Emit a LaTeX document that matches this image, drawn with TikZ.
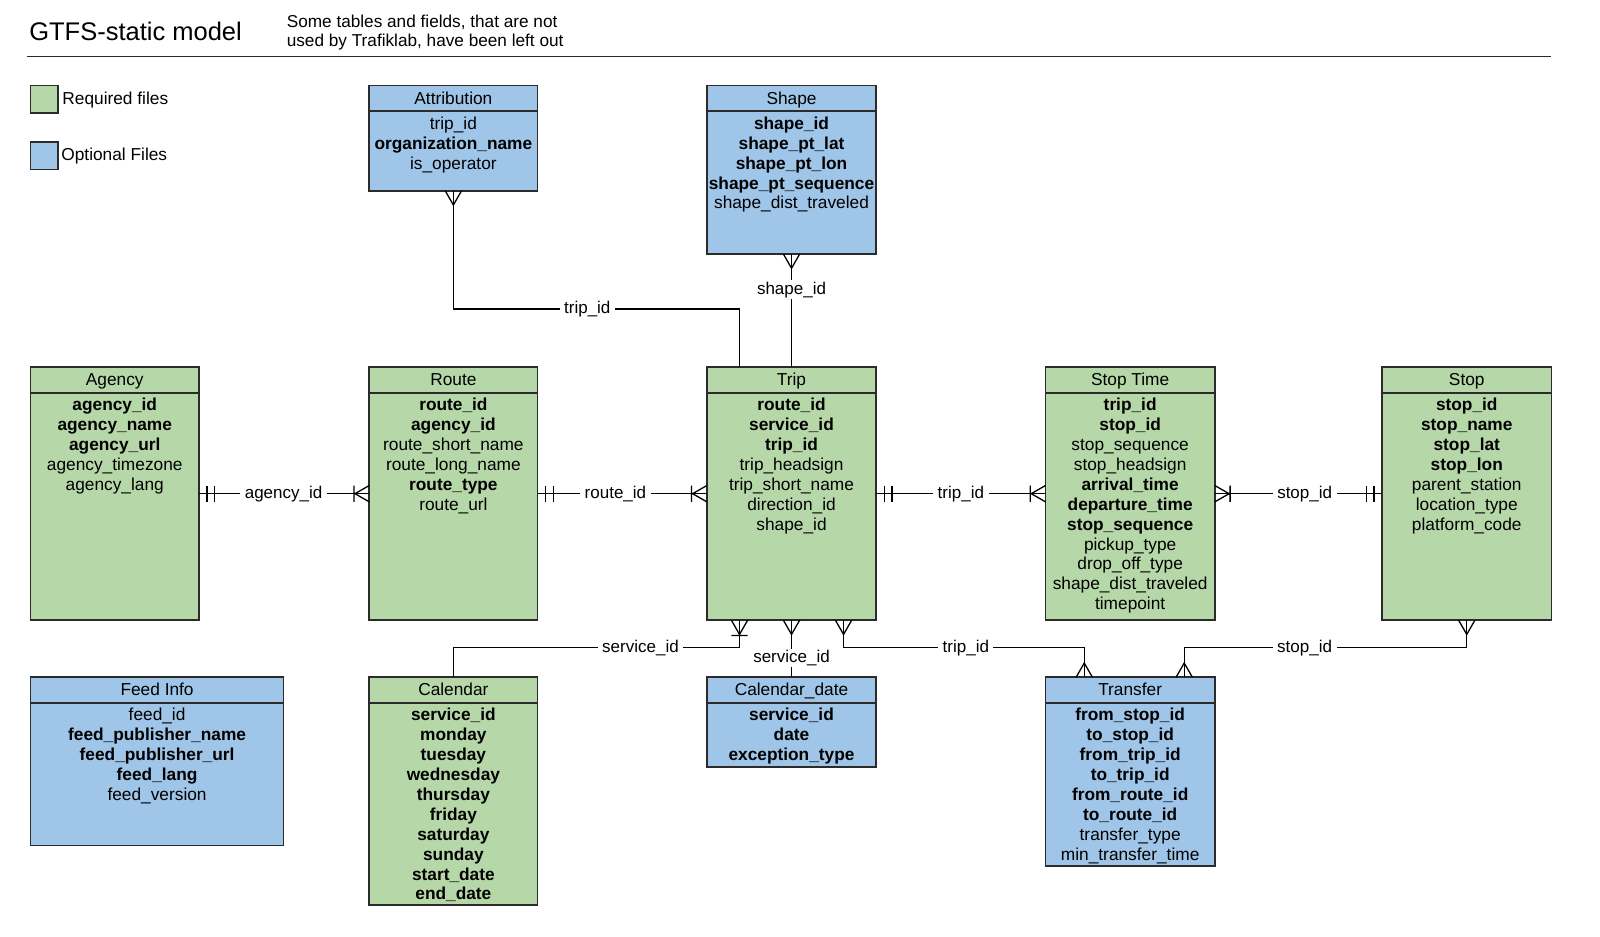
\documentclass[tikz,border=0pt]{standalone}
\usepackage{fontspec}
\setmainfont{Liberation Sans}
\usetikzlibrary{calc}
\definecolor{reqc}{HTML}{B6D7A8}
\definecolor{optc}{HTML}{9FC5E8}
\definecolor{boxc}{HTML}{2B2B2B}
\tikzset{
  tblbox/.style={draw=boxc, line width=1.6pt, outer sep=0pt, inner sep=0pt},
  txt/.style={font=\fontsize{17.3}{19.9}\selectfont, inner sep=0pt},
  lbl/.style={fill=white, font=\fontsize{17}{19.9}\selectfont, inner xsep=4.5pt, inner ysep=1.5pt},
  conn/.style={line width=1.3pt, draw=black},
  pics/many/.style={code={\draw[conn] (0,8) -- (14,0) -- (0,-8);}},
  pics/onemany/.style={code={\draw[conn] (0,8) -- (14,0) -- (0,-8) (15,-8) -- (15,8);}},
  pics/onlyone/.style={code={\draw[conn] (8,-8) -- (8,8) (15.5,-8) -- (15.5,8);}},
}
\newcommand\erbox[8]{%
  \node[tblbox, fill=#6, minimum width={(#4-#2)*1.02pt}, minimum height={(#5-#3)*1.02pt}, anchor=north west] (#1) at (#2,#3) {};
  \draw[tblbox] ($(#1.north west)+(0,25)$) -- ($(#1.north east)+(0,25)$);
  \node[txt, anchor=base] (#1-title) at ($(#1.north)+(0,18)$) {#7};
  \foreach \rw [count=\i] in {#8} {\node[txt, anchor=base] (#1-r\i) at ($(#1.north)+(0,{42.8+(\i-1)*19.5})$) {\rw};}
}
\begin{document}
\begin{tikzpicture}[x=1.02pt, y=-1.02pt]
\useasboundingbox[fill=white] (0,0) rectangle (1568.63,917.65);

% title and rule
\node[anchor=base west, inner sep=0pt, font=\fontsize{25.5}{30}\selectfont] (title) at (28.5,39.5) {GTFS-static model};
\node[anchor=base west, inner sep=0pt, font=\fontsize{17.2}{19.9}\selectfont] (sub1) at (281,27) {Some tables and fields, that are not};
\node[anchor=base west, inner sep=0pt, font=\fontsize{17.2}{19.9}\selectfont] (sub2) at (281,46) {used by Trafiklab, have been left out};
\draw[line width=1.3pt, draw=boxc] (26,55.5) -- (1520.5,55.5);

% legend
\node[tblbox, fill=reqc, minimum width=27*1.02pt, minimum height=27*1.02pt, anchor=north west] (legreq) at (30,84) {};
\node[txt, anchor=base west] (legreqtxt) at (61,102.5) {Required files};
\node[tblbox, fill=optc, minimum width=27*1.02pt, minimum height=27*1.02pt, anchor=north west] (legopt) at (30,139) {};
\node[txt, anchor=base west] (legopttxt) at (60,157.5) {Optional Files};

% tables
\erbox{attr}{362}{84}{527}{187}{optc}{Attribution}{trip\_id,\textbf{organization\_name},is\_operator}
\erbox{shape}{693}{84}{859}{249}{optc}{Shape}{\textbf{shape\_id},\textbf{shape\_pt\_lat},\textbf{shape\_pt\_lon},\textbf{shape\_pt\_sequence},shape\_dist\_traveled}
\erbox{agency}{30}{360}{195}{608}{reqc}{Agency}{\textbf{agency\_id},\textbf{agency\_name},\textbf{agency\_url},agency\_timezone,agency\_lang}
\erbox{route}{362}{360}{527}{608}{reqc}{Route}{\textbf{route\_id},\textbf{agency\_id},route\_short\_name,route\_long\_name,\textbf{route\_type},route\_url}
\erbox{trip}{693}{360}{859}{608}{reqc}{Trip}{\textbf{route\_id},\textbf{service\_id},\textbf{trip\_id},trip\_headsign,trip\_short\_name,direction\_id,shape\_id}
\erbox{stoptime}{1025}{360}{1191}{608}{reqc}{Stop Time}{\textbf{trip\_id},\textbf{stop\_id},stop\_sequence,stop\_headsign,\textbf{arrival\_time},\textbf{departure\_time},\textbf{stop\_sequence},pickup\_type,drop\_off\_type,shape\_dist\_traveled,timepoint}
\erbox{stop}{1355}{360}{1521}{608}{reqc}{Stop}{\textbf{stop\_id},\textbf{stop\_name},\textbf{stop\_lat},\textbf{stop\_lon},parent\_station,location\_type,platform\_code}
\erbox{feed}{30}{664}{278}{829}{optc}{Feed Info}{feed\_id,\textbf{feed\_publisher\_name},\textbf{feed\_publisher\_url},\textbf{feed\_lang},feed\_version}
\erbox{calendar}{362}{664}{527}{887}{reqc}{Calendar}{\textbf{service\_id},\textbf{monday},\textbf{tuesday},\textbf{wednesday},\textbf{thursday},\textbf{friday},\textbf{saturday},\textbf{sunday},\textbf{start\_date},\textbf{end\_date}}
\erbox{caldate}{693}{664}{859}{752}{optc}{Calendar\_date}{\textbf{service\_id},\textbf{date},\textbf{exception\_type}}
\erbox{transfer}{1025}{664}{1191}{849}{optc}{Transfer}{\textbf{from\_stop\_id},\textbf{to\_stop\_id},\textbf{from\_trip\_id},\textbf{to\_trip\_id},\textbf{from\_route\_id},\textbf{to\_route\_id},transfer\_type,min\_transfer\_time}

% attachment points
\coordinate (tripN1) at ($(trip.north west)+(32,0)$);
\coordinate (tripS1) at ($(trip.south west)+(32,0)$);
\coordinate (tripS3) at ($(trip.south west)+(134,0)$);
\coordinate (trfN1) at ($(transfer.north west)+(38,0)$);
\coordinate (trfN2) at ($(transfer.north west)+(136,0)$);

% connectors
\draw[conn] (agency.east) -- node[lbl, pos=0.497] {agency\_id} (route.west);
\draw[conn] (route.east) -- node[lbl, pos=0.46] {route\_id} (trip.west);
\draw[conn] (trip.east) -- node[lbl, pos=0.5] {trip\_id} (stoptime.west);
\draw[conn] (stoptime.east) -- node[lbl, pos=0.537] {stop\_id} (stop.west);
\draw[conn] (attr.south) |- node[lbl, pos=0.734] {trip\_id} (tripN1 |- 0,303) -- (tripN1);
\draw[conn] (shape.south) -- node[lbl, pos=0.315] {shape\_id} (trip.north);
\draw[conn] (calendar.north) |- node[lbl, pos=0.827] {service\_id} (tripS1 |- 0,635) -- (tripS1);
\draw[conn] (caldate.north) -- node[lbl, pos=0.34] {service\_id} (trip.south);
\draw[conn] (tripS3) |- node[lbl, pos=0.754] {trip\_id} (trfN1 |- 0,635) -- (trfN1);
\draw[conn] (stop.south) |- node[lbl, pos=0.787] {stop\_id} (trfN2 |- 0,635) -- (trfN2);

% cardinality marks
\pic at (agency.east) {onlyone};
\pic[rotate=180] at (route.west) {onemany};
\pic at (route.east) {onlyone};
\pic[rotate=180] at (trip.west) {onemany};
\pic at (trip.east) {onlyone};
\pic[rotate=180] at (stoptime.west) {onemany};
\pic at (stoptime.east) {onemany};
\pic[rotate=180] at (stop.west) {onlyone};
\pic[rotate=-90] at (attr.south) {many};
\pic[rotate=-90] at (shape.south) {many};
\pic[rotate=-90] at (tripS1) {onemany};
\pic[rotate=-90] at (trip.south) {many};
\pic[rotate=-90] at (tripS3) {many};
\pic[rotate=90] at (trfN1) {many};
\pic[rotate=90] at (trfN2) {many};
\pic[rotate=-90] at (stop.south) {many};
\end{tikzpicture}
\end{document}
